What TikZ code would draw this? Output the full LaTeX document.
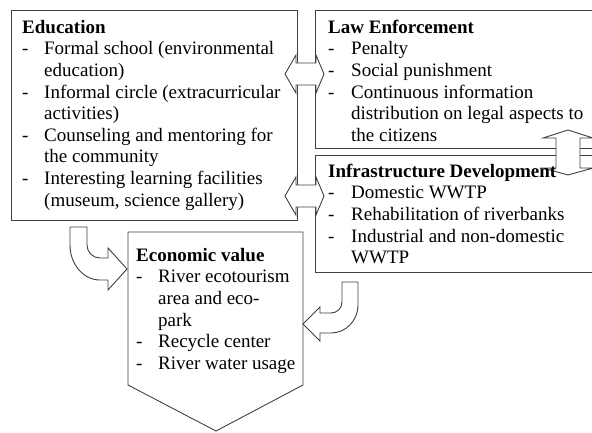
\documentclass[tikz,border=0pt]{standalone}
\usepackage{fontspec}
\setmainfont{Liberation Serif}
\usetikzlibrary{positioning}
\definecolor{lineColor}{HTML}{404040}

\tikzset{
    frame/.style={draw=lineColor, line width=0.9pt, inner sep=0pt, anchor=north west},
    boxtext/.style={inner sep=0pt, anchor=north west, font=\fontsize{19}{21.6}\selectfont},
    blockarrow/.style={draw=lineColor, line width=0.9pt, fill=white, line join=miter},
}
\newcommand{\headrow}[1]{\multicolumn{2}{@{}l@{}}{\textbf{#1}}\\}

\begin{document}
\begin{tikzpicture}[x=1pt, y=-1pt]
    \useasboundingbox (0,0) rectangle (592,432);

    % frames
    \node[frame, minimum width=286pt, minimum height=210pt] (edu) at (11,10) {};
    \node[frame, minimum width=285pt, minimum height=138pt] (law) at (315,10) {};
    \node[frame, minimum width=285pt, minimum height=117pt] (infra) at (315,155) {};
    \draw[lineColor, line width=0.9pt] (128,232) -- (303,232) -- (303,385) -- (216,431) -- (128,385) -- cycle;

    % block arrows
    \foreach \yc in {74, 196}
        \draw[blockarrow] (285,\yc) -- ++(11,-19) -- ++(0,8) -- ++(20,0) -- ++(0,-8) -- ++(8,19)
            -- ++(-8,19) -- ++(0,-8) -- ++(-20,0) -- ++(0,8) -- cycle;
    \draw[blockarrow] (568,130) -- (593,138) -- (580,138) -- (580,168) -- (593,168) -- (568,175)
        -- (543,168) -- (556,168) -- (556,138) -- (543,138) -- cycle;
    \draw[blockarrow] (70,227) -- (87,227) -- (87,245) .. controls (87,252.2) and (92.8,258) .. (100,258)
        -- (108,258) -- (108,248) -- (127,269) -- (108,290) -- (108,280) -- (100,280)
        .. controls (83.4,280) and (70,264.3) .. (70,245) -- cycle;
    \draw[blockarrow] (342,282) -- (358,282) -- (358,305) .. controls (358,320.5) and (345.9,333) .. (331,333)
        -- (320,333) -- (320,341) -- (303,324) -- (320,307) -- (320,313) -- (331,313)
        .. controls (337.1,313) and (342,308.1) .. (342,302) -- cycle;

    % texts
    \node[boxtext] (edutext) at ([shift={(11,8)}]edu.north west) {%
        \begin{tabular}{@{}p{22pt}@{}l@{}}
            \headrow{Education}
            - & Formal school (environmental\\
              & education)\\
            - & Informal circle (extracurricular\\
              & activities)\\
            - & Counseling and mentoring for\\
              & the community\\
            - & Interesting learning facilities\\
              & (museum, science gallery)
        \end{tabular}};
    \node[boxtext] (lawtext) at ([shift={(13,8)}]law.north west) {%
        \begin{tabular}{@{}p{23pt}@{}l@{}}
            \headrow{Law Enforcement}
            - & Penalty\\
            - & Social punishment\\
            - & Continuous information\\
              & distribution on legal aspects to\\
              & the citizens
        \end{tabular}};
    \node[boxtext] (infratext) at ([shift={(13,7)}]infra.north west) {%
        \begin{tabular}{@{}p{23pt}@{}l@{}}
            \headrow{Infrastructure Development}
            - & Domestic WWTP\\
            - & Rehabilitation of riverbanks\\
            - & Industrial and non-domestic\\
              & WWTP
        \end{tabular}};
    \node[boxtext] (econtext) at (136,246) {%
        \begin{tabular}{@{}p{22pt}@{}l@{}}
            \headrow{Economic value}
            - & River ecotourism\\
              & area and eco-\\
              & park\\
            - & Recycle center\\
            - & River water usage
        \end{tabular}};
\end{tikzpicture}
\end{document}
